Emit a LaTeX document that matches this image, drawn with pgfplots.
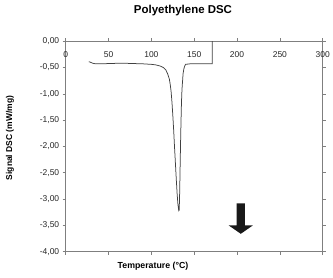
\documentclass[border=0pt]{standalone}
\usepackage{pgfplots}
\pgfplotsset{compat=1.18}
\usepackage{fontspec}
\setmainfont{Liberation Sans}
\definecolor{axgray}{HTML}{7F7F7F}
\definecolor{curve}{HTML}{404040}
\begin{document}
\begin{tikzpicture}
\useasboundingbox (0,0) rectangle (333bp,278bp);
\begin{axis}[
  at={(65.7bp,26.3bp)}, anchor=south west,
  scale only axis, width=257bp, height=210.5bp,
  xmin=0, xmax=300, ymin=-4, ymax=0,
  xtick={0,50,...,300},
  ytick={-4,-3.5,...,0},
  xticklabel pos=upper,
  tick align=outside,
  major tick length=3bp,
  axis line style={axgray, line width=0.6bp},
  every tick/.style={axgray, line width=0.6bp},
  xticklabel style={anchor=north, yshift=-10bp, font=\fontsize{8.5}{9}\selectfont, text=black!85},
  yticklabel style={font=\fontsize{8.5}{9}\selectfont, text=black!85},
  /pgf/number format/assume math mode=true,
  yticklabel={\pgfmathprintnumber[fixed, fixed zerofill, precision=2, use comma]{\tick}},
  xticklabel={\pgfmathprintnumber[fixed, precision=0]{\tick}},
  clip=false,
]
\addplot[curve, line width=0.75bp, mark=none] coordinates {
(27,-0.39) (29,-0.40) (31,-0.415) (33,-0.425) (36,-0.43) (40,-0.43)
(50,-0.425) (60,-0.42) (70,-0.42) (80,-0.425) (90,-0.43) (100,-0.44)
(105,-0.45) (110,-0.47) (114,-0.50) (117,-0.55) (119,-0.62) (121,-0.72)
(122,-0.82) (123,-0.95) (124,-1.15) (125,-1.40) (126,-1.68) (127,-2.00)
(128,-2.30) (129,-2.60) (130,-2.88) (131,-3.10) (132,-3.22) (132.5,-3.21)
(133,-2.90) (133.5,-2.45) (134,-2.00) (134.5,-1.60) (135,-1.25) (135.5,-1.00)
(136,-0.85) (136.5,-0.74) (137,-0.62) (138,-0.52) (139,-0.47) (140,-0.44)
(145,-0.43) (160,-0.43) (171,-0.43) (171,0)
};
\fill[black!90] (axis cs:199.5,-3.08) -- (axis cs:209.2,-3.08) -- (axis cs:209.2,-3.50)
  -- (axis cs:218.5,-3.50) -- (axis cs:204.4,-3.66) -- (axis cs:190.2,-3.50)
  -- (axis cs:199.5,-3.50) -- cycle;
\end{axis}
\node[font=\bfseries\fontsize{11.5}{13}\selectfont] at (183bp,267.5bp) {Polyethylene DSC};
\node[font=\bfseries\fontsize{8.8}{10}\selectfont] at (153bp,12bp) {Temperature (°C)};
\node[font=\bfseries\fontsize{8.5}{10}\selectfont, rotate=90] at (10bp,140bp) {Signal DSC (mW/mg)};
\end{tikzpicture}
\end{document}
